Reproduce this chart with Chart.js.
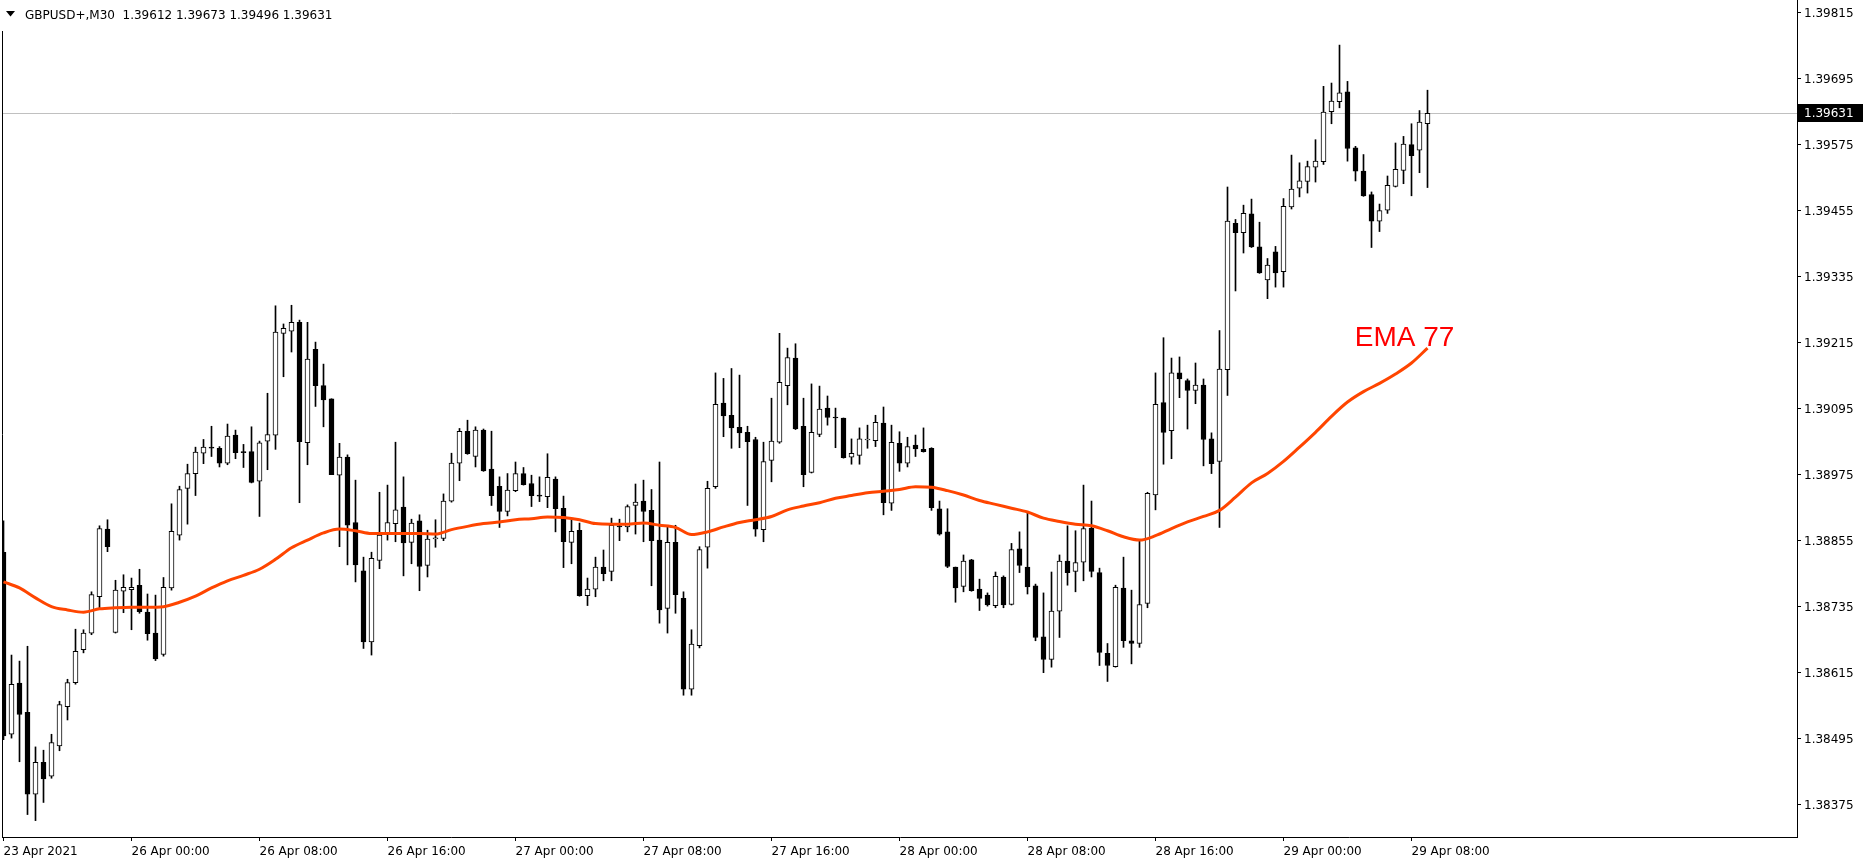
<!DOCTYPE html>
<html lang="en">
<head>
<meta charset="utf-8">
<title>GBPUSD+,M30</title>
<script src="https://cdn.jsdelivr.net/npm/chart.js@4.4.1/dist/chart.umd.min.js"></script>
<style>
  html, body { margin: 0; padding: 0; background: #fff; }
  canvas { display: block; }
</style>
</head>
<body>
<canvas id="chart" width="1870" height="867"></canvas>
<script>
  // GBPUSD+ M30 candles (oldest first)
  const openPrices = [
    1.38833, 1.38502, 1.38595, 1.38542, 1.38393, 1.38451, 1.38426, 1.38481, 1.38552, 1.38596,
    1.38656, 1.38686, 1.38752, 1.38875, 1.38687, 1.38762, 1.38765, 1.38773, 1.38724, 1.38686,
    1.38647, 1.38768, 1.38864, 1.38949, 1.38976, 1.39013, 1.39024, 1.39022, 1.38995, 1.39046,
    1.39016, 1.39016, 1.38962, 1.39035, 1.39046, 1.39231, 1.39235, 1.39251, 1.39032, 1.39202,
    1.39136, 1.39112, 1.38973, 1.39006, 1.38887, 1.38799, 1.38670, 1.38818, 1.38865, 1.38885,
    1.38915, 1.38851, 1.38890, 1.38809, 1.38857, 1.38858, 1.38926, 1.38995, 1.39053, 1.39007,
    1.39055, 1.38984, 1.38953, 1.38907, 1.38945, 1.38976, 1.38958, 1.38937, 1.38934, 1.38966,
    1.38913, 1.38851, 1.38873, 1.38754, 1.38766, 1.38806, 1.38798, 1.38881, 1.38879, 1.38918,
    1.38926, 1.38909, 1.38855, 1.38731, 1.38851, 1.38749, 1.38584, 1.38663, 1.38842, 1.38952,
    1.39104, 1.39082, 1.39060, 1.39051, 1.39038, 1.38874, 1.39000, 1.39033, 1.39136, 1.39186,
    1.39062, 1.38978, 1.39047, 1.39095, 1.39078, 1.39077, 1.39006, 1.39009, 1.39037, 1.39036,
    1.39068, 1.38922, 1.39031, 1.38995, 1.39028, 1.39020, 1.39022, 1.38912, 1.38870, 1.38806,
    1.38771, 1.38819, 1.38766, 1.38755, 1.38736, 1.38788, 1.38738, 1.38839, 1.38806, 1.38772,
    1.38679, 1.38638, 1.38726, 1.38817, 1.38798, 1.38815, 1.38877, 1.38796, 1.38649, 1.38625,
    1.38768, 1.38672, 1.38667, 1.38740, 1.38937, 1.39105, 1.39054, 1.39159, 1.39145, 1.39127,
    1.39137, 1.39039, 1.38998, 1.39165, 1.39431, 1.39414, 1.39448, 1.39388, 1.39328, 1.39379,
    1.39343, 1.39461, 1.39495, 1.39507, 1.39533, 1.39543, 1.39634, 1.39652, 1.39670, 1.39568,
    1.39526, 1.39483, 1.39435, 1.39455, 1.39498, 1.39527, 1.39574, 1.39564, 1.39612
  ];
  const highPrices = [
    1.38890, 1.38646, 1.38635, 1.38662, 1.38479, 1.38473, 1.38502, 1.38562, 1.38602, 1.38693,
    1.38692, 1.38761, 1.38881, 1.38892, 1.38782, 1.38792, 1.38786, 1.38802, 1.38757, 1.38755,
    1.38787, 1.38921, 1.38953, 1.38993, 1.39024, 1.39038, 1.39062, 1.39025, 1.39066, 1.39055,
    1.39029, 1.39061, 1.39035, 1.39122, 1.39281, 1.39248, 1.39282, 1.39255, 1.39251, 1.39215,
    1.39175, 1.39112, 1.39031, 1.39010, 1.38964, 1.38824, 1.38833, 1.38942, 1.38955, 1.39033,
    1.38970, 1.38893, 1.38901, 1.38873, 1.38892, 1.38939, 1.39013, 1.39058, 1.39073, 1.39061,
    1.39057, 1.39053, 1.38970, 1.38976, 1.38997, 1.38987, 1.38973, 1.38970, 1.39012, 1.38970,
    1.38935, 1.38892, 1.38886, 1.38786, 1.38824, 1.38837, 1.38895, 1.38893, 1.38919, 1.38957,
    1.38964, 1.38947, 1.38997, 1.38879, 1.38882, 1.38761, 1.38692, 1.38843, 1.38962, 1.39159,
    1.39149, 1.39167, 1.39155, 1.39062, 1.39042, 1.39033, 1.39113, 1.39231, 1.39204, 1.39212,
    1.39113, 1.39139, 1.39135, 1.39117, 1.39095, 1.39077, 1.39039, 1.39059, 1.39064, 1.39082,
    1.39097, 1.39064, 1.39052, 1.39042, 1.39046, 1.39059, 1.39023, 1.38926, 1.38912, 1.38806,
    1.38828, 1.38820, 1.38784, 1.38759, 1.38797, 1.38790, 1.38849, 1.38870, 1.38905, 1.38775,
    1.38759, 1.38797, 1.38828, 1.38881, 1.38872, 1.38955, 1.38926, 1.38804, 1.38667, 1.38773,
    1.38824, 1.38764, 1.38855, 1.38942, 1.39159, 1.39223, 1.39186, 1.39188, 1.39148, 1.39177,
    1.39148, 1.39050, 1.39236, 1.39497, 1.39438, 1.39464, 1.39475, 1.39433, 1.39367, 1.39389,
    1.39476, 1.39555, 1.39541, 1.39544, 1.39583, 1.39680, 1.39686, 1.39755, 1.39689, 1.39571,
    1.39556, 1.39488, 1.39466, 1.39517, 1.39577, 1.39589, 1.39612, 1.39636, 1.39673
  ];
  const lowPrices = [
    1.38492, 1.38495, 1.38452, 1.38356, 1.38345, 1.38378, 1.38422, 1.38472, 1.38528, 1.38593,
    1.38650, 1.38683, 1.38732, 1.38834, 1.38686, 1.38723, 1.38692, 1.38722, 1.38673, 1.38636,
    1.38644, 1.38764, 1.38855, 1.38884, 1.38936, 1.38994, 1.39007, 1.38988, 1.38992, 1.39003,
    1.38987, 1.38959, 1.38898, 1.38983, 1.39020, 1.39152, 1.39197, 1.38923, 1.38992, 1.39098,
    1.39061, 1.38974, 1.38843, 1.38810, 1.38779, 1.38658, 1.38646, 1.38803, 1.38855, 1.38852,
    1.38790, 1.38812, 1.38763, 1.38788, 1.38842, 1.38854, 1.38924, 1.38963, 1.39011, 1.38988,
    1.38980, 1.38918, 1.38878, 1.38899, 1.38943, 1.38955, 1.38916, 1.38925, 1.38914, 1.38870,
    1.38805, 1.38812, 1.38753, 1.38736, 1.38752, 1.38781, 1.38781, 1.38854, 1.38870, 1.38866,
    1.38852, 1.38772, 1.38704, 1.38686, 1.38722, 1.38573, 1.38573, 1.38659, 1.38804, 1.38949,
    1.39043, 1.39022, 1.39023, 1.38918, 1.38862, 1.38852, 1.38961, 1.39031, 1.39101, 1.39056,
    1.38952, 1.38977, 1.39043, 1.39064, 1.39023, 1.39004, 1.38993, 1.38993, 1.39022, 1.39025,
    1.38901, 1.38909, 1.38980, 1.38988, 1.39007, 1.39015, 1.38909, 1.38864, 1.38805, 1.38742,
    1.38761, 1.38762, 1.38727, 1.38735, 1.38732, 1.38732, 1.38737, 1.38796, 1.38757, 1.38672,
    1.38614, 1.38624, 1.38678, 1.38773, 1.38761, 1.38781, 1.38788, 1.38627, 1.38598, 1.38624,
    1.38660, 1.38630, 1.38660, 1.38732, 1.38910, 1.38993, 1.39003, 1.39114, 1.39057, 1.39103,
    1.38990, 1.38976, 1.38878, 1.39118, 1.39308, 1.39377, 1.39387, 1.39340, 1.39294, 1.39315,
    1.39315, 1.39457, 1.39479, 1.39486, 1.39506, 1.39538, 1.39612, 1.39641, 1.39544, 1.39508,
    1.39480, 1.39387, 1.39416, 1.39449, 1.39497, 1.39503, 1.39481, 1.39523, 1.39496
  ];
  const closePrices = [
    1.38499, 1.38593, 1.38538, 1.38393, 1.38451, 1.38421, 1.38487, 1.38556, 1.38596, 1.38653,
    1.38686, 1.38756, 1.38876, 1.38843, 1.38764, 1.38769, 1.38769, 1.38725, 1.38685, 1.38639,
    1.38769, 1.38871, 1.38947, 1.38976, 1.39015, 1.39024, 1.39022, 1.38995, 1.39044, 1.39014,
    1.39014, 1.38960, 1.39032, 1.39047, 1.39233, 1.39240, 1.39251, 1.39034, 1.39184, 1.39136,
    1.39110, 1.38974, 1.39006, 1.38882, 1.38810, 1.38670, 1.38822, 1.38864, 1.38887, 1.38910,
    1.38850, 1.38886, 1.38807, 1.38857, 1.38859, 1.38926, 1.38995, 1.39053, 1.39012, 1.39055,
    1.38981, 1.38936, 1.38907, 1.38946, 1.38976, 1.38956, 1.38936, 1.38935, 1.38969, 1.38912,
    1.38852, 1.38871, 1.38754, 1.38766, 1.38806, 1.38794, 1.38882, 1.38879, 1.38916, 1.38924,
    1.38907, 1.38854, 1.38728, 1.38851, 1.38756, 1.38584, 1.38666, 1.38838, 1.38949, 1.39102,
    1.39081, 1.39059, 1.39050, 1.39034, 1.38875, 1.38998, 1.39035, 1.39142, 1.39187, 1.39057,
    1.38974, 1.39051, 1.39093, 1.39078, 1.39077, 1.39005, 1.39013, 1.39039, 1.39038, 1.39069,
    1.38923, 1.39033, 1.38995, 1.39025, 1.39021, 1.39016, 1.38914, 1.38866, 1.38807, 1.38768,
    1.38817, 1.38763, 1.38749, 1.38737, 1.38789, 1.38737, 1.38838, 1.38809, 1.38770, 1.38678,
    1.38638, 1.38726, 1.38817, 1.38796, 1.38814, 1.38876, 1.38798, 1.38651, 1.38627, 1.38769,
    1.38672, 1.38667, 1.38738, 1.38940, 1.39102, 1.39051, 1.39159, 1.39148, 1.39127, 1.39137,
    1.39038, 1.38994, 1.39166, 1.39435, 1.39414, 1.39449, 1.39388, 1.39341, 1.39355, 1.39341,
    1.39462, 1.39493, 1.39508, 1.39534, 1.39544, 1.39633, 1.39653, 1.39668, 1.39567, 1.39526,
    1.39481, 1.39435, 1.39454, 1.39500, 1.39529, 1.39575, 1.39554, 1.39615, 1.39631
  ];

  // EMA 77 read at every second bar
  const emaIndex = [
      0,   2,   4,   6,   8,  10,  12,  14,  16,  18,  20,  22,  24,  26,  28,  30,  32,  34,
     36,  38,  40,  42,  44,  46,  48,  50,  52,  54,  56,  58,  60,  62,  64,  66,  68,  70,
     72,  74,  76,  78,  80,  82,  84,  86,  88,  90,  92,  94,  96,  98, 100, 102, 104, 106,
    108, 110, 112, 114, 116, 118, 120, 122, 124, 126, 128, 130, 132, 134, 136, 138, 140, 142,
    144, 146, 148, 150, 152, 154, 156, 158, 160, 162, 164, 166, 168, 170, 172, 174, 176, 178
  ];
  const emaValues = [
    1.38779, 1.38768, 1.38750, 1.38734, 1.38728, 1.38724, 1.38730, 1.38732, 1.38733, 1.38733,
    1.38734, 1.38742, 1.38753, 1.38768, 1.38781, 1.38791, 1.38802, 1.38820, 1.38841, 1.38855,
    1.38868, 1.38875, 1.38872, 1.38867, 1.38867, 1.38867, 1.38867, 1.38866, 1.38874, 1.38880,
    1.38885, 1.38888, 1.38892, 1.38894, 1.38897, 1.38896, 1.38892, 1.38885, 1.38884, 1.38884,
    1.38886, 1.38882, 1.38878, 1.38865, 1.38870, 1.38879, 1.38887, 1.38892, 1.38898, 1.38910,
    1.38917, 1.38923, 1.38931, 1.38936, 1.38941, 1.38944, 1.38947, 1.38952, 1.38951, 1.38945,
    1.38937, 1.38927, 1.38920, 1.38913, 1.38906, 1.38895, 1.38889, 1.38884, 1.38881, 1.38872,
    1.38861, 1.38855, 1.38863, 1.38876, 1.38888, 1.38898, 1.38909, 1.38933, 1.38959, 1.38976,
    1.38998, 1.39024, 1.39051, 1.39080, 1.39106, 1.39125, 1.39140, 1.39157, 1.39177, 1.39204
  ];

  // time axis: one label every 16 bars (8 hours)
  const xTickIndex = [0, 16, 32, 48, 64, 80, 96, 112, 128, 144, 160, 176];
  const xTickLabels = [
    '23 Apr 2021', '26 Apr 00:00', '26 Apr 08:00', '26 Apr 16:00', '27 Apr 00:00', '27 Apr 08:00',
    '27 Apr 16:00', '28 Apr 00:00', '28 Apr 08:00', '28 Apr 16:00', '29 Apr 00:00', '29 Apr 08:00'
  ];
  const yTickValues = [
    1.38375, 1.38495, 1.38615, 1.38735, 1.38855, 1.38975, 1.39095,
    1.39215, 1.39335, 1.39455, 1.39575, 1.39695, 1.39815
  ];

  const symbolTitle = 'GBPUSD+,M30';
  const emaLabel = 'EMA 77';

  const FONT = '"DejaVu Sans", Tahoma, sans-serif';
  const last = closePrices.length - 1;
  const isBull = i => closePrices[i] >= openPrices[i];

  const wickData = openPrices.map((o, i) => ({ x: i, y: [lowPrices[i], highPrices[i]] }));
  const bodyData = openPrices.map((o, i) => ({ x: i, y: [o, closePrices[i]] }));
  const emaData = emaIndex.map((t, k) => ({ x: t, y: emaValues[k] }));

  // header, frame, bid line, price tag and the EMA text label
  const terminalLook = {
    id: 'terminalLook',
    beforeDatasetsDraw(chart) {
      const { ctx, chartArea: a, scales: { y } } = chart;
      const py = Math.round(y.getPixelForValue(closePrices[last])) + 0.5;
      ctx.save();
      ctx.strokeStyle = '#c0c0c0';
      ctx.lineWidth = 1;
      ctx.beginPath();
      ctx.moveTo(a.left, py);
      ctx.lineTo(a.right, py);
      ctx.stroke();
      ctx.restore();
    },
    afterDraw(chart) {
      const { ctx, chartArea: a, scales: { x, y } } = chart;
      ctx.save();

      // left edge of the frame
      ctx.strokeStyle = '#000';
      ctx.lineWidth = 1;
      ctx.beginPath();
      ctx.moveTo(a.left - 0.5, 31);
      ctx.lineTo(a.left - 0.5, a.bottom + 1);
      ctx.stroke();

      // header
      ctx.fillStyle = '#000';
      ctx.beginPath();
      ctx.moveTo(6, 11);
      ctx.lineTo(15, 11);
      ctx.lineTo(10.5, 16.5);
      ctx.closePath();
      ctx.fill();
      ctx.font = '12px ' + FONT;
      ctx.textBaseline = 'alphabetic';
      ctx.textAlign = 'left';
      const ohlc = [openPrices[last], highPrices[last], lowPrices[last], closePrices[last]]
        .map(v => v.toFixed(5)).join(' ');
      ctx.fillText(symbolTitle + '  ' + ohlc, 25, 19);

      // current price tag on the axis
      const py = Math.round(y.getPixelForValue(closePrices[last]));
      ctx.fillStyle = '#000';
      ctx.fillRect(a.right + 1, py - 9, 65, 18);
      ctx.fillStyle = '#fff';
      ctx.textBaseline = 'middle';
      ctx.fillText(closePrices[last].toFixed(5), a.right + 7, py + 0.5);

      // EMA caption next to the end of the line
      ctx.fillStyle = '#ff0000';
      ctx.font = '28px "Liberation Sans", Arial, sans-serif';
      ctx.textBaseline = 'alphabetic';
      ctx.fillText(emaLabel, x.getPixelForValue(168.9), y.getPixelForValue(1.39208));
      ctx.restore();
    }
  };

  const ctx = document.getElementById('chart').getContext('2d');
  new Chart(ctx, {
    type: 'bar',
    data: {
      datasets: [
        {
          type: 'line',
          label: emaLabel,
          data: emaData,
          borderColor: '#ff4500',
          borderWidth: 3,
          pointRadius: 0,
          cubicInterpolationMode: 'monotone',
          order: 0
        },
        {
          label: 'body',
          data: bodyData,
          backgroundColor: c => (c.dataIndex !== undefined && isBull(c.dataIndex)) ? '#ffffff' : '#000000',
          borderColor: '#000000',
          borderWidth: 1,
          borderSkipped: false,
          barThickness: 5,
          maxBarThickness: 5,
          minBarLength: 1,
          grouped: false,
          order: 1
        },
        {
          label: 'wick',
          data: wickData,
          backgroundColor: '#000000',
          borderWidth: 0,
          barThickness: 1,
          maxBarThickness: 1,
          grouped: false,
          order: 2
        }
      ]
    },
    options: {
      responsive: false,
      animation: false,
      layout: { padding: { left: 3, top: 0, right: 0, bottom: 0 } },
      plugins: {
        legend: { display: false },
        tooltip: { enabled: false },
        title: { display: false }
      },
      scales: {
        x: {
          type: 'linear',
          min: -0.0625,
          max: 224.1875,
          offset: false,
          grid: { drawOnChartArea: false, drawTicks: true, tickLength: 4, color: '#000', offset: false },
          border: { display: true, color: '#000' },
          ticks: {
            autoSkip: false,
            maxRotation: 0,
            align: 'start',
            padding: 4,
            color: '#000',
            font: { family: FONT, size: 12 },
            callback: (v, i) => xTickLabels[i]
          },
          afterBuildTicks: s => { s.ticks = xTickIndex.map(v => ({ value: v })); },
          afterFit: s => { s.height = 30; s.paddingLeft = 0; s.paddingRight = 0; }
        },
        y: {
          type: 'linear',
          position: 'right',
          min: 1.383152,
          max: 1.39837,
          beginAtZero: false,
          grid: { drawOnChartArea: false, drawTicks: true, tickLength: 4, color: '#000' },
          border: { display: true, color: '#000' },
          ticks: {
            padding: 3,
            labelOffset: 2,
            color: '#000',
            font: { family: FONT, size: 12 },
            callback: v => Number(v).toFixed(5)
          },
          afterBuildTicks: s => { s.ticks = yTickValues.map(v => ({ value: v })); },
          afterFit: s => { s.width = 73; s.paddingTop = 0; s.paddingBottom = 0; }
        }
      }
    },
    plugins: [terminalLook]
  });
</script>
</body>
</html>
